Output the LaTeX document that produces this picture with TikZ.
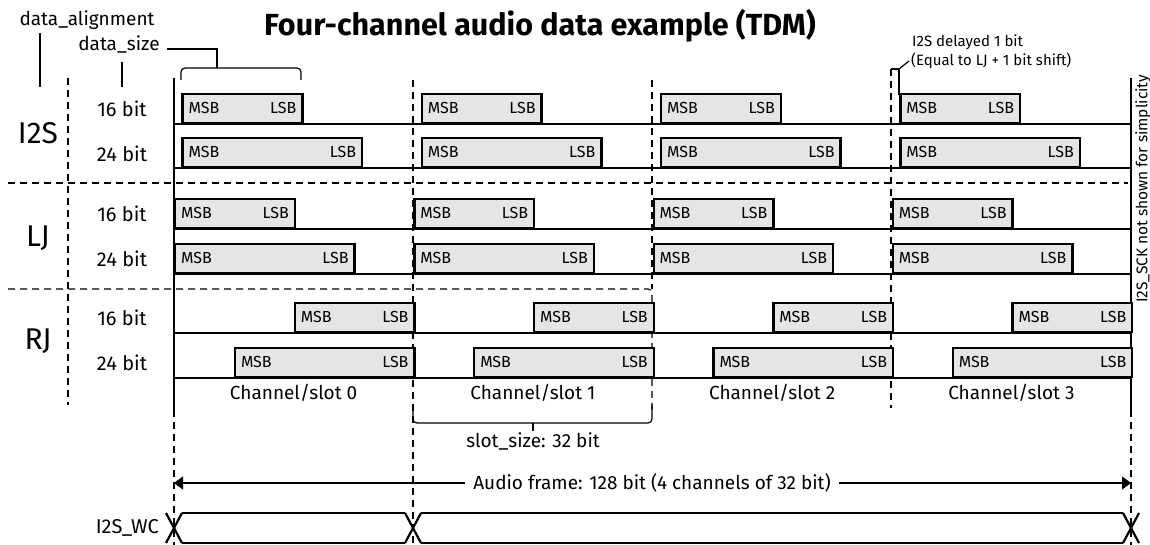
\documentclass[tikz,border=0pt]{standalone}
\usepackage{fontspec}
\setmainfont{Fira Sans}
\usetikzlibrary{arrows.meta}
\definecolor{boxgray}{RGB}{230,228,230}
\tikzset{frametip/.tip={Triangle[length=9pt,width=13pt]}}
\begin{document}
\begin{tikzpicture}[x=1pt, y=-1pt,
    every node/.style={inner sep=0pt},
    lbl/.style={font=\fontsize{19}{22}\selectfont},
    grp/.style={font=\fontsize{30}{34}\selectfont},
    bitlbl/.style={font=\fontsize{16}{18}\selectfont},
    note/.style={font=\fontsize{15}{17}\selectfont},
    databox/.style={draw, line width=2.4pt, fill=boxgray, minimum height=29pt, anchor=south west},
    wire/.style={line width=2pt},
    rail/.style={line width=2.5pt},
    guide/.style={line width=1.1pt, dash pattern=on 7pt off 5pt},
    thin/.style={line width=1.2pt},
    bus/.style={line width=2.2pt}]

\useasboundingbox (0,0) rectangle (1150,545);

\node[font=\bfseries\fontsize{30.5}{34}\selectfont] (title) at (540,26) {Four-channel audio data example (TDM)};

\draw[guide] (68,78) -- (68,405);
\draw[guide] (8,183) -- (1128,183);
\draw[guide, rounded corners=4pt] (8,289) -- (652,289) -- (652,412);
\draw[guide] (413,80) -- (413,545);
\draw[guide] (652,80) -- (652,289);
\draw[guide] (891,69) -- (891,408);
\draw[guide] (174,410) -- (174,545);
\draw[guide] (1131,410) -- (1131,545);

\draw[rail] (174,78) -- (174,410);
\draw[rail] (1131,78) -- (1131,410);
\foreach \y in {124,168,229,274,333,378}
    \draw[wire] (174,\y) -- (1131,\y);

\foreach \k in {0,...,3}{
  \foreach \r/\base/\off/\n in {a/124/1/16, b/168/1/24, c/229/0/16, d/274/0/24, e/333/16/16, f/378/8/24}{
    \node[databox, minimum width=\n*7.4766pt] (box-\r\k) at ({174+239.25*\k+7.4766*\off},\base) {};
    \node[bitlbl, anchor=west] (msb-\r\k) at ([xshift=7pt]box-\r\k.west) {MSB};
    \node[bitlbl, anchor=east] (lsb-\r\k) at ([xshift=-7pt]box-\r\k.east) {LSB};
  }
  \node[lbl] (slot-\k) at ({174+239.25*(\k+0.5)},393) {Channel/slot \k};
}

\foreach \y/\t [count=\i] in {109/16, 154/24, 214/16, 259/24, 318/16, 363/24}
    \node[lbl, font=\fontsize{20}{23}\selectfont] (size-\i) at (122,\y) {\t\ bit};

\node[grp] (grp-i2s) at (38,133) {I2S};
\node[grp] (grp-lj) at (38,238) {LJ};
\node[grp] (grp-rj) at (38,341) {RJ};

\node[lbl] (dalign) at (87,20) {data\_alignment};
\node[lbl] (dsize) at (119,44) {data\_size};
\draw[thin] (40,33) -- (40,87);
\draw[thin] (122,62) -- (122,87);
\draw[thin] (167,49) -| (217,68);
\draw[thin, rounded corners=4pt] (181,80) -- (181,68) -- (301,68) -- (301,80);

\node[note, anchor=west] (delaynote) at (912,42) {I2S delayed 1 bit};
\node[note, anchor=west] (eqnote) at (911,61) {(Equal to LJ + 1 bit shift)};
\draw[thin] (891,69) -- (899,69) -- (899,95);
\draw[thin] (899,69) -- (909,61);

\node[note, font=\fontsize{15.5}{18}\selectfont, rotate=90] (scknote) at (1143,189) {I2S\_SCK not shown for simplicity};

\draw[thin, rounded corners=4pt] (652,405) -- (652,423) -- (413,423) -- (413,410);
\draw[thin] (533,423) -- (533,431);
\node[lbl] (slotsize) at (533,441) {slot\_size: 32 bit};

\coordinate (frame-l) at (174,483);
\coordinate (frame-r) at (1131,483);
\draw[thin, frametip-frametip] (frame-l) -- (frame-r);
\node[lbl, fill=white, inner xsep=8pt, inner ysep=2pt] (framelbl) at (652,483) {Audio frame: 128 bit (4 channels of 32 bit)};

\foreach \c in {174,413,1131}{
  \draw[bus] (\c-8,513) -- (\c+8,543);
  \draw[bus] (\c-8,543) -- (\c+8,513);
}
\draw[bus] (182,513) -- (405,513) (182,543) -- (405,543)
           (421,513) -- (1123,513) (421,543) -- (1123,543);
\node[font=\fontsize{20}{23}\selectfont, anchor=east] (wclbl) at (159,528) {I2S\_WC};

\end{tikzpicture}
\end{document}
